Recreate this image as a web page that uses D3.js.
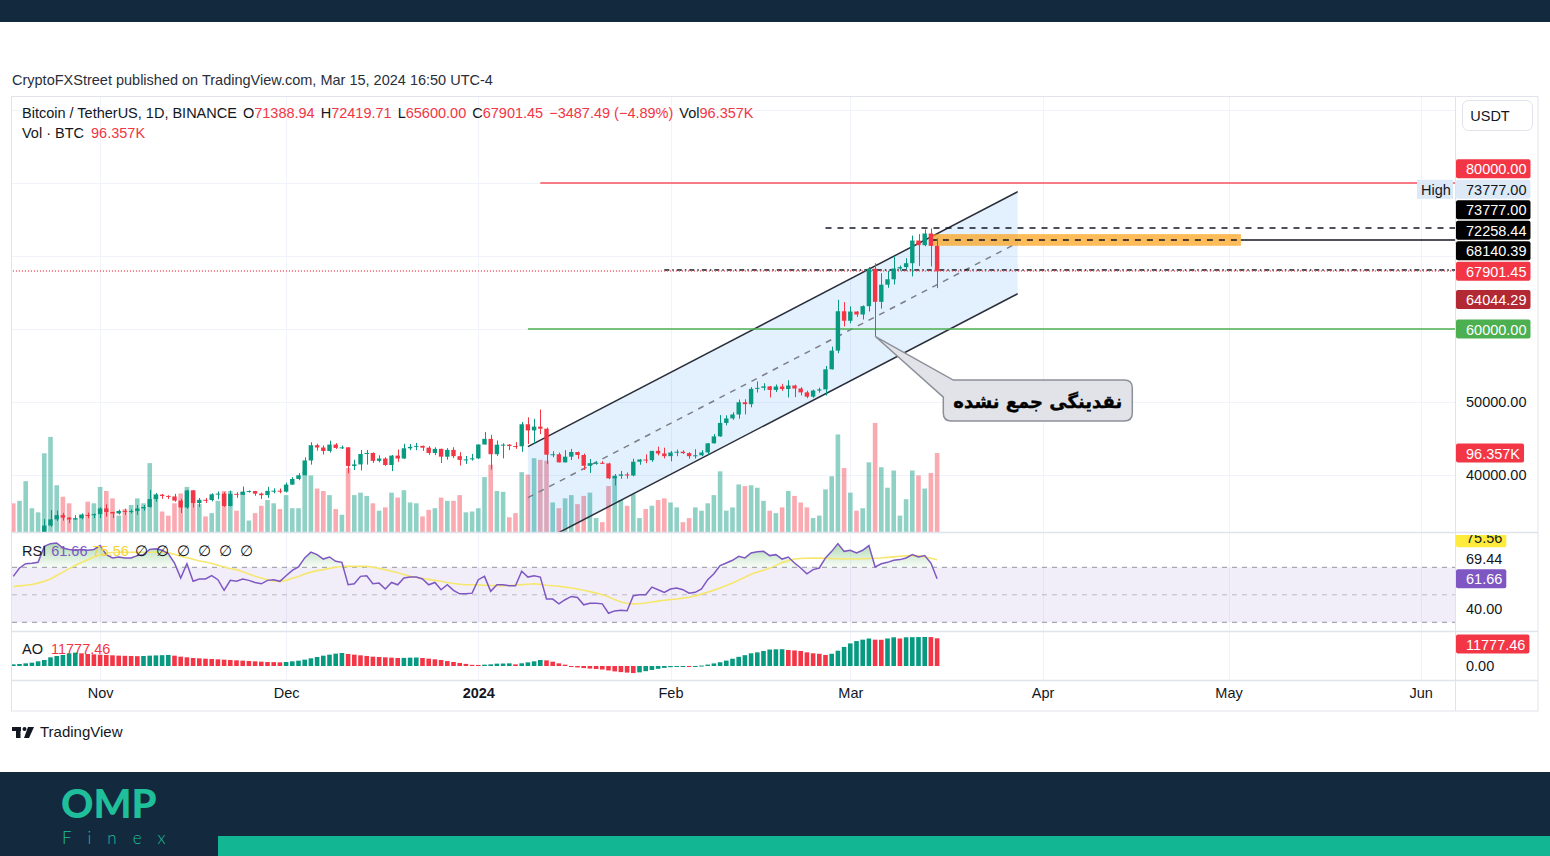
<!DOCTYPE html>
<html>
<head>
<meta charset="utf-8">
<script src="https://cdn.jsdelivr.net/npm/d3@7"></script>
<style>
body{margin:0;background:#fff;}
svg{display:block;font-family:"Liberation Sans",Arial,sans-serif;}
</style>
</head>
<body>
<svg id="chart" width="1550" height="856"></svg>
<script>
'use strict'

// ---- data (BTCUSDT 1D, first bar 2023-10-18) ----
const startDay = '2023-10-18'

const opens = [28400,28330,28720,29680,29920,30000,33070,33930,34500,34160,
33910,34090,34530,34480,34640,35420,34940,34730,35080,35050,
35060,35420,35620,36700,37310,37130,37060,36490,35550,37880,
36160,36600,36570,37360,37450,35760,37420,37290,37720,37800,
37450,37240,37830,37850,37720,38690,39460,39970,41990,44080,
43770,43290,44170,43710,43790,41240,41450,42880,43020,41940,
42260,41370,42660,42260,43660,43860,43990,43740,43020,43580,
42510,43440,42580,42070,42140,42280,44180,44950,42850,44150,
44160,43970,43930,46950,46110,46630,46340,42780,42840,41730,
42510,43150,42740,41260,41620,41670,41580,39540,39900,40080,
39930,41820,42120,42030,43300,42950,42580,43080,43190,43000,
42580,42700,43090,44340,45290,47130,47750,48290,49960,49700,
51800,51940,52140,51650,52120,51780,52260,51850,51320,50730,
51570,51730,54480,57040,62430,61130,62390,61990,63130,68250,
63720,66070,66810,68290,68480,69010,72120,71480,73080,71388.94]

const highs = [28980,28930,30200,30340,30220,33980,35200,35130,34820,34240,
34480,34750,34860,34720,35580,35980,34950,35260,35380,35290,
35900,35890,37970,37530,37400,37230,37420,36750,37980,37930,
36850,36850,37500,37760,37650,37860,37650,38420,37890,37830,
37590,38380,38170,38150,38950,39700,40250,42420,44490,44300,
44050,44700,44370,44040,43800,42100,43430,43420,43090,42700,
42430,42750,43490,44280,44240,44400,44020,43950,43800,43600,
43680,43800,43130,42600,42890,44180,45880,45500,44730,44340,
44230,44500,47250,47900,47700,48970,46500,43250,43070,43400,
43580,43200,42930,42200,41860,41890,41680,40130,40550,40350,
42230,42200,42840,43310,43880,43740,43290,43480,43380,43120,
43530,43400,44370,45610,48200,48170,48590,50330,50370,52040,
52820,52580,52200,52400,52490,52980,52370,52020,51550,51690,
51960,54940,57590,64000,63680,63100,62430,63230,68500,69000,
67640,67980,69990,68700,69700,72800,73000,73650,73777,72419.71]

const lows = [28150,28160,28600,29470,29680,29880,32880,33700,33750,33390,
33860,33930,34070,34080,34100,34300,34100,34580,34530,34740,
34520,35110,35530,36330,36740,36710,36340,34800,35360,35540,
35610,36160,36380,36680,35630,35670,36870,37250,37600,37160,
36710,36870,37500,37490,37600,38650,39280,39960,41420,43340,
42820,43080,43580,43570,40220,40680,40630,41420,41660,41740,
41250,40530,41800,42210,43400,43400,43300,42760,42720,41640,
42100,42320,41300,41520,41970,42180,44150,40750,42620,42280,
43400,43580,43180,44250,44300,45600,41500,42440,41720,41720,
42050,42200,40680,40280,41400,41500,39430,38560,39490,39500,
39820,41400,41620,41800,42680,42270,41880,42580,42880,42220,
42260,42580,42790,44330,45240,46800,47560,47710,48300,49270,
51300,51580,50620,51360,51520,50620,50660,50900,50520,50580,
51280,50900,54450,56690,60360,60780,61660,61300,62400,59000,
62790,65640,66100,68000,68200,67200,68620,71330,68560,65600]

const closes = [28330,28720,29680,29920,30000,33070,33930,34500,34160,33910,
34090,34530,34480,34640,35420,34940,34730,35080,35050,35060,
35420,35620,36700,37310,37130,37060,36490,35550,37880,36160,
36600,36570,37360,37450,35760,37420,37290,37720,37800,37450,
37240,37830,37850,37720,38690,39460,39970,41990,44080,43770,
43290,44170,43710,43790,41240,41450,42880,43020,41940,42260,
41370,42660,42260,43660,43860,43990,43740,43020,43580,42510,
43440,42580,42070,42140,42280,44180,44950,42850,44150,44160,
43970,43930,46950,46110,46630,46340,42780,42840,41730,42510,
43150,42740,41260,41620,41670,41580,39540,39900,40080,39930,
41820,42120,42030,43300,42950,42580,43080,43190,43000,42580,
42700,43090,44340,45290,47130,47750,48290,49960,49700,51800,
51940,52140,51650,52120,51780,52260,51850,51320,50730,51570,
51730,54480,57040,62430,61130,62390,61990,63130,68250,63720,
66070,66810,68290,68480,69010,72120,71480,73080,71388.94,67901.45]

// volume in thousands of BTC
const volumes = [35,38,62,29,24,96,116,57,43,35,
16,22,37,35,55,50,41,20,28,33,
41,35,84,46,25,20,35,47,55,51,
34,19,23,38,50,50,26,49,14,23,
32,39,35,28,45,29,29,74,69,53,
50,45,28,21,78,45,48,44,35,26,
30,48,42,51,36,35,19,27,29,42,
38,38,45,24,25,29,67,82,50,49,
18,23,73,70,90,88,87,36,29,41,
45,34,44,48,17,12,56,67,39,32,
46,17,28,32,39,41,36,30,12,17,
30,26,35,45,74,26,30,58,56,57,
54,38,26,23,30,50,44,36,30,17,
20,52,68,119,78,48,26,29,85,133,
79,54,75,20,40,75,69,53,72,96.357]

const rsiValues = [63.4,69.5,72.6,73,73.6,85.3,87.2,87.7,84,82.9,
82.4,83,82.4,83,85.8,79.2,76.8,77.5,76.8,76.8,
78.5,79.2,83,83.4,82.4,79.9,73.1,62.2,72.6,59.8,
61.5,61.5,63.9,61,53.2,60.5,59.8,61.5,60.5,59,
58,60.5,61,59.8,63.9,67.8,70.2,76.8,81,79.2,
76,77.5,74.4,73.6,57.3,58,63.4,63.9,58,58.5,
54.2,59,57.3,62.2,62.9,62.9,61.5,57.3,59,53.7,
57.3,53.2,50.7,50.7,51.2,61,63.4,52.5,57.3,57.3,
56.6,56.6,67.1,62.9,63.9,62.9,46.9,46.9,43.4,46.4,
48.8,48,42.7,43.9,43.9,43.4,36.6,38.3,38.8,38.4,
49.3,50,50,55.6,53.7,51.8,54.2,55,53.7,51.2,
51.8,54.2,61,65.3,71.2,73.1,75.1,78,76.8,80.4,
81.3,81.6,78.5,79.2,76,77.5,73.1,69.5,65.3,68.3,
69.5,76.8,81.6,87.2,81.6,82.4,80.4,82.4,85.8,70.2,
72.6,73.6,75.1,75.6,76.8,79.2,77.5,78.5,73.1,61.66]

const rsiMA = [56,56.5,57,57.5,58.5,59.8,61.5,64,66.5,69,
71.5,73.5,75.5,77.5,79,80.4,80.8,81,81,81,
81,81,81,81,81,80.5,79.5,78,77,75.8,
74.6,73.8,72.8,71.5,70.2,69,68.3,66.8,65.2,63.5,
62.2,61,60,59.8,60.5,62,63.3,65.2,66.5,67.6,
68.3,69.2,70,70.6,70.7,70.7,70.7,70.7,70,69.2,
68.3,67.1,66,64.8,63.4,62.6,61.9,61.2,60.5,59.8,
59,58.2,57.7,57.3,57.3,57.2,57,56.8,56.7,56.6,
56.8,57.1,57.4,57.7,58,57.6,57,56.6,56.2,55.6,
55,54.2,53.3,52.3,51.2,50,48.5,46.5,44.8,43.8,
43.4,43.5,44,44.8,45.4,46,46.5,47,47.6,48.2,
49.2,50.5,51.8,53.4,55,56.8,58.6,60.6,62.8,65,
66.5,67.8,69.4,71.4,73.4,74.8,76,76.4,76.6,76.7,
76.8,76.6,76.4,76.2,76,76,76,76.2,76.4,76.6,
76.8,77.2,77.6,78,78.3,78.5,78.3,77.6,76.6,75.56]

const aoValues = [700,850,1130,1420,1990,2550,3690,4260,4680,5390,
5670,5390,5100,4960,4820,4680,4540,4400,4330,4260,
4180,4260,4400,4500,4600,4700,4400,3970,3690,3400,
3260,3120,2980,2840,2700,2550,2410,2270,2130,1990,
1840,1700,1650,1560,1700,1990,2270,2700,3260,3830,
4400,4820,5250,5530,5100,4820,4540,4260,3970,3830,
3690,3550,3400,3450,3550,3600,3400,3120,2840,2550,
2100,1700,1300,900,500,450,570,700,1000,1050,
1130,700,1150,1560,1990,2550,2400,1840,1130,570,
-300,-600,-900,-1100,-1300,-1500,-1900,-2300,-2600,-2800,
-3000,-2700,-2200,-1700,-1200,-800,-500,-300,-150,-250,
-100,200,600,1100,1600,2300,3100,3900,4600,5400,
5800,6400,7000,7100,7150,6800,6600,6400,5800,5400,
5200,4700,5200,6500,8100,9600,10600,11200,11700,11200,
11150,11700,12200,11700,12200,12250,12300,12350,12300,11777.46]

const monthTicks = [
  {date:'2023-11-01', label:'Nov'}, {date:'2023-12-01', label:'Dec'},
  {date:'2024-01-01', label:'2024'}, {date:'2024-02-01', label:'Feb'},
  {date:'2024-03-01', label:'Mar'}, {date:'2024-04-01', label:'Apr'},
  {date:'2024-05-01', label:'May'}, {date:'2024-06-01', label:'Jun'}
]
const priceTicks = [40000, 50000]
const priceGrid = [40000, 50000, 60000, 70000, 80000, 90000]

// drawings on the price pane (date / price anchors)
const channelUpper = [{date:'2024-01-09', price:43877}, {date:'2024-03-28', price:78808}]
const channelWidth = 13972
const hLines = [
  {name:'target', price:80000, from:'2024-01-11'},
  {name:'high', price:73777, from:'2024-02-26'},
  {name:'zone', price:72258.44, from:'2024-05-03'},
  {name:'zoneDash', price:72258.44, from:'2024-03-14', to:'2024-05-03'},
  {name:'level', price:68140.39, from:'2024-01-31'},
  {name:'last', price:67901.45, from:'2023-10-01'},
  {name:'support', price:60000, from:'2024-01-09'}
]
const zoneBox = {from:'2024-03-14', to:'2024-05-03', top:73000, bottom:71400}
const callout = {tipDate:'2024-03-05', tipPrice:59000, boxDate:'2024-03-16', boxPrice:53000,
  text:'نقدینگی جمع نشده'}

const priceTags = [
  {value:80000, text:'80000.00', kind:'red'},
  {value:73777, text:'73777.00', kind:'high'},
  {value:73777, text:'73777.00', kind:'black'},
  {value:72258.44, text:'72258.44', kind:'black'},
  {value:68140.39, text:'68140.39', kind:'black'},
  {value:67901.45, text:'67901.45', kind:'red', anchor:true},
  {value:64044.29, text:'64044.29', kind:'darkred'},
  {value:60000, text:'60000.00', kind:'green'}
]
const rsiTags = [
  {value:75.56, text:'75.56', kind:'yellow'},
  {value:69.44, text:'69.44', kind:'plain'},
  {value:61.66, text:'61.66', kind:'purple', anchor:true}
]

// ---- layout ----
const svg = d3.select('#chart')
const W = 1550
const L = 12, R = 1455, AXR = 1538
const priceTop = 97, priceBot = 532, rsiTop = 533, rsiBot = 631, aoTop = 632, aoBot = 680, timeBot = 711
const green = '#089981', red = '#f23645', ink = '#131722'
const fs = 14.5

const tagStyle = {
  red:{bg:'#f23645', fg:'#fff'}, black:{bg:'#000', fg:'#fff'}, high:{bg:'#dde9f7', fg:ink},
  darkred:{bg:'#b22833', fg:'#fff'}, green:{bg:'#4caf50', fg:'#fff'}, plain:{bg:null, fg:ink},
  yellow:{bg:'#ffeb3b', fg:ink}, purple:{bg:'#7e57c2', fg:'#fff'}
}

const parse = s => new Date(s + 'T00:00:00Z')
const days = closes.map((c, i) => d3.utcDay.offset(parse(startDay), i))
const bars = days.map((d, i) => ({date:d, o:opens[i], h:highs[i], l:lows[i], c:closes[i], v:volumes[i],
  rsi:rsiValues[i], ma:rsiMA[i], ao:aoValues[i], i:i}))

const x = d3.scaleUtc().domain([days[0], days[days.length - 1]]).range([13.3, 937.1])
const y = d3.scaleLinear().domain([40000, 60000]).range([475, 329])
const yVol = d3.scaleLinear().domain([0, 96.357]).range([priceBot, 453])
const yRsi = d3.scaleLinear().domain([30, 70]).range([622.3, 567.3])
const yAo = d3.scaleLinear().domain([0, 11777.46]).range([666, 638.3])

// page bands
svg.append('rect').attr('x', 0).attr('y', 0).attr('width', W).attr('height', 22).attr('fill', '#132a3e')
svg.append('rect').attr('x', 0).attr('y', 772).attr('width', W).attr('height', 84).attr('fill', '#132a3e')
svg.append('rect').attr('x', 218).attr('y', 836).attr('width', W - 218).attr('height', 20).attr('fill', '#13b692')

svg.append('text').attr('x', 12).attr('y', 85).attr('font-size', fs).attr('fill', '#2a2e39')
  .text('CryptoFXStreet published on TradingView.com, Mar 15, 2024 16:50 UTC-4')

// clip paths
const defs = svg.append('defs')
function clip(id, y0, y1){
  defs.append('clipPath').attr('id', id).append('rect')
    .attr('x', L).attr('y', y0).attr('width', R - L).attr('height', y1 - y0)
}
clip('cPrice', priceTop, priceBot)
clip('cRsi', rsiTop, rsiBot)
clip('cAo', aoTop, aoBot)
defs.append('clipPath').attr('id', 'cRsiAxis').append('rect')
  .attr('x', R).attr('y', rsiTop + 2).attr('width', AXR - R).attr('height', rsiBot - rsiTop - 2)

const grad = defs.append('linearGradient').attr('id', 'rsiUp').attr('gradientUnits', 'userSpaceOnUse')
  .attr('x1', 0).attr('x2', 0).attr('y1', yRsi(90)).attr('y2', yRsi(70))
grad.append('stop').attr('offset', 0).attr('stop-color', 'rgba(76,175,80,0.5)')
grad.append('stop').attr('offset', 1).attr('stop-color', 'rgba(76,175,80,0.04)')

// grid
const grid = svg.append('g').attr('stroke', '#f0f3fa').attr('stroke-width', 1)
monthTicks.forEach(function(t){
  const gx = Math.round(x(parse(t.date))) + 0.5
  grid.append('line').attr('x1', gx).attr('x2', gx).attr('y1', priceTop).attr('y2', aoBot)
})
priceGrid.forEach(function(p){
  const gy = Math.round(y(p)) + 0.5
  grid.append('line').attr('x1', L).attr('x2', R).attr('y1', gy).attr('y2', gy)
})

// ---- price pane ----
const pane = svg.append('g').attr('clip-path', 'url(#cPrice)')
const bw = 4.6

pane.selectAll('.vol').data(bars).enter().append('rect').attr('class', 'vol')
  .attr('x', d => x(d.date) - bw / 2).attr('width', bw)
  .attr('y', d => yVol(d.v)).attr('height', d => priceBot - yVol(d.v))
  .attr('fill', d => d.c >= d.o ? 'rgba(8,153,129,0.45)' : 'rgba(242,54,69,0.42)')

// channel
const cx0 = x(parse(channelUpper[0].date)), cx1 = x(parse(channelUpper[1].date))
const up0 = channelUpper[0].price, up1 = channelUpper[1].price
pane.append('path')
  .attr('d', d3.line()([[cx0, y(up0)], [cx1, y(up1)], [cx1, y(up1 - channelWidth)], [cx0, y(up0 - channelWidth)]]) + 'Z')
  .attr('fill', 'rgba(33,150,243,0.13)')
const chan = [0, channelWidth / 2, channelWidth]
chan.forEach(function(off, k){
  pane.append('line').attr('x1', cx0).attr('x2', cx1).attr('y1', y(up0 - off)).attr('y2', y(up1 - off))
    .attr('stroke', k == 1 ? '#7b7e88' : '#2a2e39').attr('stroke-width', 1.5)
    .attr('stroke-dasharray', k == 1 ? '6,6' : null)
})

// zone box
pane.append('rect').attr('x', x(parse(zoneBox.from))).attr('width', x(parse(zoneBox.to)) - x(parse(zoneBox.from)))
  .attr('y', y(zoneBox.top)).attr('height', y(zoneBox.bottom) - y(zoneBox.top))
  .attr('fill', 'rgba(255,152,0,0.65)')

// horizontal lines
const lineStyle = {
  target:{stroke:'#f7525f', w:1.3, dash:null},
  high:{stroke:'#131722', w:1.5, dash:'6,6'},
  zone:{stroke:'#131722', w:1.5, dash:null},
  zoneDash:{stroke:'#131722', w:1.5, dash:'6,6'},
  level:{stroke:'#131722', w:1.5, dash:'5,3,1.5,3'},
  last:{stroke:'#f7525f', w:1.3, dash:'1,2'},
  support:{stroke:'#4caf50', w:1.3, dash:null}
}
hLines.forEach(function(h){
  const s = lineStyle[h.name]
  const ly = Math.round(y(h.price))
  pane.append('line').attr('x1', x(parse(h.from))).attr('x2', h.to ? x(parse(h.to)) : R)
    .attr('y1', ly).attr('y2', ly).attr('stroke', s.stroke).attr('stroke-width', s.w)
    .attr('stroke-dasharray', s.dash)
})

// candles
const cg = pane.append('g')
cg.selectAll('.wick').data(bars).enter().append('line').attr('class', 'wick')
  .attr('x1', d => Math.round(x(d.date)) + 0.5).attr('x2', d => Math.round(x(d.date)) + 0.5)
  .attr('y1', d => y(d.h)).attr('y2', d => y(d.l))
  .attr('stroke', d => d.c >= d.o ? green : red).attr('stroke-width', 1)
cg.selectAll('.body').data(bars).enter().append('rect').attr('class', 'body')
  .attr('x', d => x(d.date) - 2.2).attr('width', 4.4)
  .attr('y', d => y(Math.max(d.o, d.c)))
  .attr('height', d => Math.max(1, Math.abs(y(d.o) - y(d.c))))
  .attr('fill', d => d.c >= d.o ? green : red)

// callout
const tipX = x(parse(callout.tipDate)), tipY = y(callout.tipPrice)
const bx = x(parse(callout.boxDate)), by = y(callout.boxPrice)
const bwid = 189, bh = 41, rr = 8
const cp = d3.path()
cp.moveTo(tipX, tipY)
cp.lineTo(bx + 10, by)
cp.lineTo(bx + bwid - rr, by)
cp.quadraticCurveTo(bx + bwid, by, bx + bwid, by + rr)
cp.lineTo(bx + bwid, by + bh - rr)
cp.quadraticCurveTo(bx + bwid, by + bh, bx + bwid - rr, by + bh)
cp.lineTo(bx + rr, by + bh)
cp.quadraticCurveTo(bx, by + bh, bx, by + bh - rr)
cp.lineTo(bx, by + 17)
cp.closePath()
svg.append('path').attr('d', cp.toString()).attr('fill', '#e1e3e8').attr('stroke', '#8c9099').attr('stroke-width', 1.5)
svg.append('text').attr('x', bx + bwid / 2).attr('y', by + bh / 2 + 1).attr('text-anchor', 'middle')
  .attr('dominant-baseline', 'central').attr('direction', 'rtl')
  .attr('font-family', '"DejaVu Sans", "Noto Sans", sans-serif').attr('font-weight', 'bold')
  .attr('font-size', 18).attr('fill', '#000').attr('stroke', '#000').attr('stroke-width', 0.4)
  .text(callout.text)

// ---- RSI pane ----
const rp = svg.append('g').attr('clip-path', 'url(#cRsi)')
rp.append('rect').attr('x', L).attr('width', R - L).attr('y', yRsi(70)).attr('height', yRsi(30) - yRsi(70))
  .attr('fill', 'rgba(126,87,194,0.1)')
;[70, 50, 30].forEach(function(v){
  rp.append('line').attr('x1', L).attr('x2', R).attr('y1', yRsi(v)).attr('y2', yRsi(v))
    .attr('stroke', '#8a8d96').attr('stroke-width', 1).attr('stroke-dasharray', '5,5')
    .attr('opacity', v == 50 ? 0.55 : 0.9)
})
rp.append('path').datum(bars)
  .attr('d', d3.area().x(d => x(d.date)).y0(yRsi(70)).y1(d => yRsi(Math.max(d.rsi, 70))))
  .attr('fill', 'url(#rsiUp)')
rp.append('path').datum(bars).attr('d', d3.line().x(d => x(d.date)).y(d => yRsi(d.ma)))
  .attr('fill', 'none').attr('stroke', '#f5e76e').attr('stroke-width', 1.6)
rp.append('path').datum(bars).attr('d', d3.line().x(d => x(d.date)).y(d => yRsi(d.rsi)))
  .attr('fill', 'none').attr('stroke', '#7e57c2').attr('stroke-width', 1.5)

// ---- AO pane ----
const ap = svg.append('g').attr('clip-path', 'url(#cAo)')
ap.selectAll('.ao').data(bars).enter().append('rect').attr('class', 'ao')
  .attr('x', d => x(d.date) - 2.3).attr('width', 4.6)
  .attr('y', d => Math.min(yAo(d.ao), yAo(0)))
  .attr('height', d => Math.max(1, Math.abs(yAo(d.ao) - yAo(0))))
  .attr('fill', d => (d.i > 0 && d.ao < aoValues[d.i - 1]) ? red : green)

// ---- frame & separators ----
const frame = svg.append('g').attr('fill', 'none').attr('stroke', '#e0e3eb')
frame.append('rect').attr('x', 11.5).attr('y', 96.5).attr('width', AXR - 11.5).attr('height', timeBot - 96.5)
frame.append('line').attr('x1', R + 0.5).attr('x2', R + 0.5).attr('y1', 96.5).attr('y2', timeBot)
;[priceBot, rsiBot, aoBot].forEach(function(sy){
  frame.append('line').attr('x1', 11.5).attr('x2', AXR).attr('y1', sy + 0.5).attr('y2', sy + 0.5)
    .attr('stroke-width', 1.5)
})

// ---- time axis ----
const tAxis = svg.append('g').attr('transform', 'translate(0,' + (aoBot + 5) + ')')
  .call(d3.axisBottom(x).tickValues(monthTicks.map(t => parse(t.date))).tickSize(0)
    .tickFormat((d, i) => monthTicks[i].label))
tAxis.select('.domain').remove()
tAxis.selectAll('text').attr('font-size', fs).attr('fill', ink)
  .attr('font-family', '"Liberation Sans",Arial,sans-serif')
  .attr('font-weight', (d, i) => /^\d{4}$/.test(monthTicks[i].label) ? 'bold' : null)

// ---- price axis ----
const pAxis = svg.append('g').attr('transform', 'translate(' + 1466 + ',0)')
  .call(d3.axisRight(y).tickValues(priceTicks).tickSize(0).tickFormat(d3.format('.2f')))
pAxis.select('.domain').remove()
pAxis.selectAll('text').attr('x', 0).attr('font-size', fs).attr('fill', ink)
  .attr('font-family', '"Liberation Sans",Arial,sans-serif')

function axisText(g, ty, str, fill){
  return g.append('text').attr('x', 1466).attr('y', ty).attr('dominant-baseline', 'central')
    .attr('font-size', fs).attr('fill', fill).text(str)
}
axisText(svg, yRsi(40), '40.00', ink)
axisText(svg, yAo(0), '0.00', ink)

function drawTags(g, tags, scale, gap, minY){
  const pos = tags.map(t => scale(t.value))
  const a = tags.findIndex(t => t.anchor)
  for (let j = a - 1; j >= 0; j--) pos[j] = Math.min(pos[j], pos[j + 1] - gap)
  for (let j = a + 1; j < tags.length; j++) pos[j] = Math.max(pos[j], pos[j - 1] + gap)
  tags.forEach(function(t, j){
    const st = tagStyle[t.kind]
    const ty = Math.max(pos[j], minY)
    const r = g.append('rect')
    const tx = axisText(g, ty + 0.5, t.text, st.fg)
    const tw = tx.node().getComputedTextLength()
    if (st.bg) r.attr('x', 1456).attr('y', ty - 9.5).attr('width', 1466 - 1456 + tw + 4).attr('height', 19)
      .attr('rx', 2).attr('fill', st.bg)
    else r.remove()
    if (t.kind == 'high') {
      g.append('rect').attr('x', 1417).attr('y', ty - 9.5).attr('width', 36).attr('height', 19).attr('fill', st.bg)
      g.append('text').attr('x', 1421).attr('y', ty + 0.5).attr('dominant-baseline', 'central')
        .attr('font-size', fs).attr('fill', ink).text('High')
    }
  })
}
drawTags(svg.append('g'), priceTags, y, 20.5, 0)
drawTags(svg.append('g').attr('clip-path', 'url(#cRsiAxis)'), rsiTags, yRsi, 20.5, 0)
drawTags(svg.append('g'), [{value:11777.46, text:'11777.46', kind:'red', anchor:true}], yAo, 20, aoTop + 12)
drawTags(svg.append('g'), [{value:96.357, text:'96.357K', kind:'red', anchor:true}], yVol, 20, 0)

// USDT button
svg.append('rect').attr('x', 1462.5).attr('y', 100.5).attr('width', 70).attr('height', 30).attr('rx', 6)
  .attr('fill', '#fff').attr('stroke', '#e0e3eb')
svg.append('text').attr('x', 1490).attr('y', 116).attr('text-anchor', 'middle').attr('dominant-baseline', 'central')
  .attr('font-size', fs).attr('fill', ink).text('USDT')

// ---- legends ----
const f2 = d3.format('.2f')
const last = bars[bars.length - 1]
const chg = last.c - last.o
const leg = svg.append('text').attr('x', 22).attr('y', 118).attr('font-size', fs).attr('fill', ink)
leg.append('tspan').text('Bitcoin / TetherUS, 1D, BINANCE')
;[['O', f2(last.o)], ['H', f2(last.h)], ['L', f2(last.l)], ['C', f2(last.c)]].forEach(function(p){
  leg.append('tspan').attr('dx', 6).text(p[0])
  leg.append('tspan').attr('fill', red).text(p[1])
})
leg.append('tspan').attr('dx', 6).attr('fill', red)
  .text(f2(chg).replace('-', '\u2212') + ' (' + f2(chg / last.o * 100).replace('-', '\u2212') + '%)')
leg.append('tspan').attr('dx', 6).text('Vol')
leg.append('tspan').attr('fill', red).text(last.v + 'K')

const leg2 = svg.append('text').attr('x', 22).attr('y', 138).attr('font-size', fs).attr('fill', ink)
leg2.append('tspan').text('Vol \u00b7 BTC')
leg2.append('tspan').attr('dx', 7).attr('fill', red).text(last.v + 'K')

const leg3 = svg.append('text').attr('x', 22).attr('y', 556).attr('font-size', fs).attr('fill', ink)
leg3.append('tspan').text('RSI')
leg3.append('tspan').attr('dx', 5).attr('fill', '#7e57c2').text(f2(last.rsi))
leg3.append('tspan').attr('dx', 5).attr('fill', '#f2d43a').text(f2(last.ma))
leg3.append('tspan').attr('dx', 6).attr('letter-spacing', 8).text('\u2205\u2205\u2205\u2205\u2205\u2205')

const leg4 = svg.append('text').attr('x', 22).attr('y', 654).attr('font-size', fs).attr('fill', ink)
leg4.append('tspan').text('AO')
leg4.append('tspan').attr('dx', 8).attr('fill', red).text(f2(last.ao))

// ---- TradingView mark ----
const tv = svg.append('g').attr('fill', ink)
tv.append('rect').attr('x', 12).attr('y', 727).attr('width', 9).attr('height', 4)
tv.append('rect').attr('x', 16).attr('y', 727).attr('width', 4.5).attr('height', 11)
tv.append('circle').attr('cx', 24.5).attr('cy', 729).attr('r', 2)
tv.append('path').attr('d', 'M28,727 L34,727 L29,738 L24,738 Z')
svg.append('text').attr('x', 40).attr('y', 737).attr('font-size', 15).attr('fill', ink).text('TradingView')

// ---- OMP Finex logo ----
svg.append('text').attr('x', 61).attr('y', 818).attr('font-family', 'Lato, "Open Sans", sans-serif')
  .attr('font-weight', 900).attr('font-size', 40).attr('fill', '#1fbf9b').text('OMP')
svg.append('text').attr('x', 62).attr('y', 844).attr('font-family', 'Lato, "Open Sans", sans-serif')
  .attr('font-weight', 300).attr('font-size', 17).attr('letter-spacing', 16).attr('fill', '#1fbf9b').text('Finex')
</script>
</body>
</html>
